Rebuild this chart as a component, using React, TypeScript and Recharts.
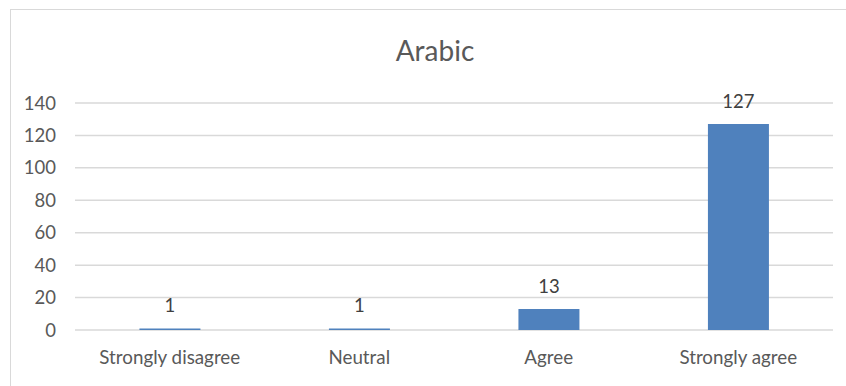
import React from 'react';
import { BarChart, Bar, XAxis, YAxis, CartesianGrid, LabelList } from 'recharts';

const categories = ['Strongly disagree', 'Neutral', 'Agree', 'Strongly agree'];
const counts = [1, 1, 13, 127];
const yTicks = [0, 20, 40, 60, 80, 100, 120, 140];

const data = categories.map((name, i) => ({ name, value: counts[i] }));

const FONT = 'Lato, "Open Sans", sans-serif';
const TEXT = '#595959';

const App = () => {
  return (
    <div
      style={{
        position: 'absolute',
        left: 0,
        top: 0,
        width: 846,
        height: 386,
        background: '#fff',
        overflow: 'hidden',
        fontFamily: FONT,
      }}
    >
      {/* chart frame, runs off the right and bottom edges */}
      <div
        style={{
          position: 'absolute',
          left: 10,
          top: 9,
          width: 860,
          height: 400,
          border: '1px solid #d9d9d9',
          boxSizing: 'border-box',
        }}
      />
      <div
        style={{
          position: 'absolute',
          left: 335,
          width: 200,
          top: 33,
          textAlign: 'center',
          fontSize: 28,
          color: TEXT,
        }}
      >
        Arabic
      </div>
      <BarChart
        width={846}
        height={386}
        data={data}
        margin={{ top: 103, right: 13, bottom: 0, left: 0 }}
        barCategoryGap="34%"
        style={{ position: 'absolute', left: 0, top: 0 }}
      >
        <CartesianGrid vertical={false} stroke="#d9d9d9" strokeWidth={1.5} />
        <XAxis
          dataKey="name"
          height={56}
          axisLine={false}
          tickLine={false}
          tickSize={0}
          tickMargin={21}
          tick={{ fill: TEXT, fontSize: 18.8, fontFamily: FONT }}
        />
        <YAxis
          width={75}
          domain={[0, 140]}
          ticks={yTicks}
          axisLine={false}
          tickLine={false}
          tickSize={0}
          tickMargin={19}
          tick={{ fill: TEXT, fontSize: 18.5, fontFamily: FONT }}
        />
        <Bar dataKey="value" fill="#4f81bd" isAnimationActive={false}>
          <LabelList
            dataKey="value"
            position="top"
            offset={16}
            fill="#404040"
            fontSize={18.5}
            fontFamily={FONT}
          />
        </Bar>
      </BarChart>
    </div>
  );
};

export default App;
